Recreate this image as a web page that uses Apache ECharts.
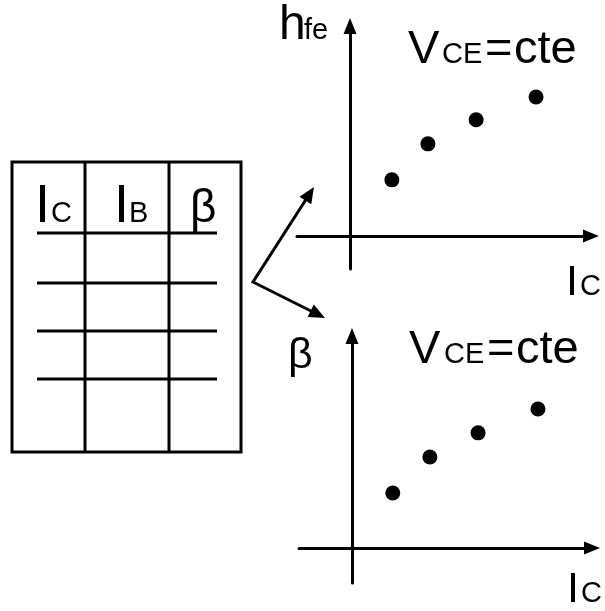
<!DOCTYPE html>
<html>
<head>
<meta charset="utf-8">
<title>hfe y beta frente a IC</title>
<script src="https://cdn.jsdelivr.net/npm/echarts@6/dist/echarts.min.js"></script>
</head>
<body style="margin:0;background:#fff">
<div id="main" style="width:605px;height:611px;"></div>
<script type="text/javascript">
// points (arbitrary units, origin where the axes cross)
var icTop = [7.9, 14.7, 23.8, 35.1];
var hfeTop = [17.0, 27.9, 35.2, 42.1];
var icBottom = [7.7, 14.7, 23.8, 35.1];
var betaBottom = [15.7, 26.0, 32.9, 39.7];

var myChart = echarts.init(document.getElementById('main'));
var FONT = '"Liberation Sans", Arial, sans-serif';

function pairs(xs, ys) {
    var out = [];
    for (var i = 0; i < xs.length; i++) out.push([xs[i], ys[i]]);
    return out;
}

// axis with a filled arrow at its end, no ticks / labels
function axis(idx, min, max) {
    return {
        type: 'value', gridIndex: idx, min: min, max: max,
        axisLine: {
            onZero: true,
            lineStyle: { color: '#000', width: 3 },
            symbol: ['none', 'triangle'],
            symbolSize: [13, 16]
        },
        axisTick: { show: false },
        axisLabel: { show: false },
        splitLine: { show: false }
    };
}

// text placed by its baseline
function txt(x, base, size, s) {
    return {
        type: 'text', x: x, y: base - 0.8 * size,
        style: {
            text: s, font: size + 'px ' + FONT, fill: '#000',
            align: 'left', verticalAlign: 'top',
            textAlign: 'left', textVerticalAlign: 'top'
        }
    };
}

function seg(x1, y1, x2, y2) {
    return { type: 'line', shape: { x1: x1, y1: y1, x2: x2, y2: y2 },
        style: { stroke: '#000', lineWidth: 3 } };
}

// arrowhead at "to", coming from "from"
function head(from, to) {
    var dx = to[0] - from[0], dy = to[1] - from[1];
    var L = Math.sqrt(dx * dx + dy * dy);
    dx /= L; dy /= L;
    var bx = to[0] - dx * 16, by = to[1] - dy * 16;
    return {
        type: 'polygon',
        shape: { points: [to, [bx - dy * 7, by + dx * 7], [bx + dy * 7, by - dx * 7]] },
        style: { fill: '#000' }
    };
}
function trim(from, to) {
    var dx = to[0] - from[0], dy = to[1] - from[1];
    var L = Math.sqrt(dx * dx + dy * dy);
    return [to[0] - dx / L * 14, to[1] - dy / L * 14];
}

var corner = [253, 282], tipUp = [314, 187], tipDown = [325, 318];

var graphics = [
    // table
    { type: 'rect', shape: { x: 12, y: 162, width: 229, height: 290 },
      style: { fill: 'none', stroke: '#000', lineWidth: 3 } },
    seg(85, 162, 85, 452),
    seg(169, 162, 169, 452),
    seg(37, 233, 217, 233),
    seg(37, 283, 217, 283),
    seg(37, 331, 217, 331),
    seg(37, 379, 217, 379),
    txt(35, 223, 54, 'I'), txt(51, 223, 29, 'C'),
    txt(114, 223, 54, 'I'), txt(129, 223, 29, 'B'),
    txt(190, 223, 46, 'β'),
    // arrows from the table to the plots
    { type: 'polyline', shape: { points: [trim(corner, tipUp), corner, trim(corner, tipDown)] },
      style: { stroke: '#000', lineWidth: 3, fill: null } },
    head(corner, tipUp), head(corner, tipDown),
    // top plot labels
    txt(279, 40, 48, 'h'), txt(304, 40, 29, 'fe'),
    txt(408, 64, 47, 'V'), txt(442, 64, 29, 'CE'),
    txt(485, 64, 47, '='), txt(514, 64, 47, 'cte'),
    txt(566, 296, 43, 'I'), txt(580, 296, 29, 'C'),
    // bottom plot labels
    txt(288, 369, 43, 'β'),
    txt(409, 364, 47, 'V'), txt(444, 364, 29, 'CE'),
    txt(487, 364, 47, '='), txt(516, 364, 47, 'cte'),
    txt(567, 603, 43, 'I'), txt(581, 603, 29, 'C')
];

var option = {
    backgroundColor: '#fff',
    animation: false,
    grid: [
        { left: 297, right: 14, top: 26, bottom: 342 },
        { left: 299, right: 13, top: 336, bottom: 28 }
    ],
    xAxis: [axis(0, -10, 45.47), axis(1, -10, 45.3)],
    yAxis: [axis(0, -10, 63.6), axis(1, -10, 60.57)],
    graphic: graphics,
    series: [
        { type: 'scatter', xAxisIndex: 0, yAxisIndex: 0, symbolSize: 15,
          itemStyle: { color: '#000', opacity: 1 }, data: pairs(icTop, hfeTop) },
        { type: 'scatter', xAxisIndex: 1, yAxisIndex: 1, symbolSize: 15,
          itemStyle: { color: '#000', opacity: 1 }, data: pairs(icBottom, betaBottom) }
    ]
};
myChart.setOption(option);
</script>
</body>
</html>
